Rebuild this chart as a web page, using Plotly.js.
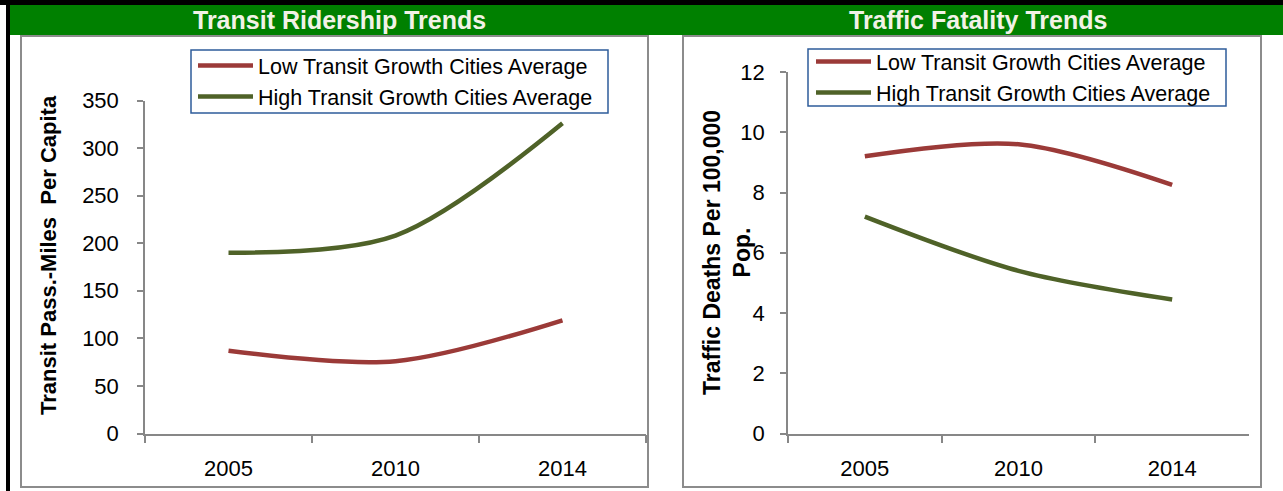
<!DOCTYPE html>
<html>
<head>
<meta charset="utf-8">
<script src="https://cdn.plot.ly/plotly-3.0.1.min.js"></script>
<style>
  html, body { margin: 0; padding: 0; background: #ffffff; }
  #chart { width: 1283px; height: 491px; }
</style>
</head>
<body>
<div id="chart"></div>
<script>
// ---- data ----
const years = ['2005', '2010', '2014'];
const seriesNames = ['Low Transit Growth Cities Average', 'High Transit Growth Cities Average'];
const ridershipLow = [87, 76, 119];
const ridershipHigh = [190, 208, 326];
const fatalityLow = [9.2, 9.6, 8.25];
const fatalityHigh = [7.2, 5.4, 4.45];
const panelTitles = ['Transit Ridership Trends', 'Traffic Fatality Trends'];
const yTitles = ['Transit Pass.-Miles  Per Capita', 'Traffic Deaths Per 100,000<br>Pop.'];

// ---- styling ----
const W = 1283, H = 491;
const X = px => px / W;
const Y = py => 1 - py / H;
const RED = '#9B3A38';
const GREEN = '#4F6228';
const AXIS = '#878787';
const FONT = 'Liberation Sans, Arial, sans-serif';

function line(x, y, name, color, xa, ya, legend) {
  return {
    type: 'scatter', mode: 'lines', x: x, y: y, name: name,
    xaxis: xa, yaxis: ya, legend: legend,
    line: { color: color, width: 4.5, shape: 'spline', smoothing: 0.9 },
    hoverinfo: 'x+y+name'
  };
}

const data = [
  line(years, ridershipLow, seriesNames[0], RED, 'x', 'y', 'legend'),
  line(years, ridershipHigh, seriesNames[1], GREEN, 'x', 'y', 'legend'),
  line(years, fatalityLow, seriesNames[0], RED, 'x2', 'y2', 'legend2'),
  line(years, fatalityHigh, seriesNames[1], GREEN, 'x2', 'y2', 'legend2')
];

const xCommon = {
  type: 'category', range: [-0.5, 2.5], tickson: 'boundaries',
  ticks: 'outside', ticklen: 8, tickwidth: 1.5, tickcolor: AXIS,
  showline: true, linecolor: AXIS, linewidth: 1.5, showgrid: false, zeroline: false,
  tickfont: { family: FONT, size: 22, color: '#000' }, ticklabelstandoff: 14, fixedrange: true
};
const yCommon = {
  ticks: 'outside', ticklen: 6, tickwidth: 1.5, tickcolor: AXIS,
  showline: true, linecolor: AXIS, linewidth: 1.5, showgrid: false, zeroline: false,
  tickfont: { family: FONT, size: 22, color: '#000' }, ticklabelstandoff: 14, fixedrange: true
};

const legendCommon = {
  bgcolor: 'rgba(0,0,0,0)', borderwidth: 0,
  font: { family: FONT, size: 21.5, color: '#000' },
  xanchor: 'left', yanchor: 'top', itemwidth: 55, itemclick: false, itemdoubleclick: false,
  tracegroupgap: 0
};

const layout = {
  width: W, height: H,
  margin: { l: 0, r: 0, t: 0, b: 0 },
  paper_bgcolor: '#ffffff', plot_bgcolor: 'rgba(0,0,0,0)',
  showlegend: true,
  xaxis: Object.assign({}, xCommon, { domain: [X(145), X(646)], anchor: 'y' }),
  yaxis: Object.assign({}, yCommon, { domain: [Y(433.5), Y(100.5)], range: [0, 350], dtick: 50, anchor: 'x' }),
  xaxis2: Object.assign({}, xCommon, { domain: [X(788), X(1249)], anchor: 'y2' }),
  yaxis2: Object.assign({}, yCommon, { domain: [Y(433.5), Y(72)], range: [0, 12], dtick: 2, anchor: 'x2', ticklabelstandoff: 11 }),
  legend: Object.assign({}, legendCommon, { x: X(193), y: Y(45) }),
  legend2: Object.assign({}, legendCommon, { x: X(811), y: Y(41) }),
  shapes: [
    // outer frame
    { type: 'rect', xref: 'paper', yref: 'paper', x0: X(0), x1: X(1283), y0: Y(0), y1: Y(5), fillcolor: '#000', line: { width: 0 }, layer: 'below' },
    { type: 'rect', xref: 'paper', yref: 'paper', x0: X(6), x1: X(10), y0: Y(0), y1: Y(491), fillcolor: '#000', line: { width: 0 }, layer: 'below' },
    // green title band
    { type: 'rect', xref: 'paper', yref: 'paper', x0: X(10), x1: X(1283), y0: Y(5), y1: Y(35), fillcolor: '#008000', line: { width: 0 }, layer: 'below' },
    // panel boxes
    { type: 'rect', xref: 'paper', yref: 'paper', x0: X(21), x1: X(648), y0: Y(36), y1: Y(487), fillcolor: 'rgba(0,0,0,0)', line: { color: '#8c8c8c', width: 2 }, layer: 'below' },
    { type: 'rect', xref: 'paper', yref: 'paper', x0: X(683), x1: X(1261), y0: Y(36), y1: Y(487), fillcolor: 'rgba(0,0,0,0)', line: { color: '#8c8c8c', width: 2 }, layer: 'below' },
    // legend boxes
    { type: 'rect', xref: 'paper', yref: 'paper', x0: X(191), x1: X(608), y0: Y(50), y1: Y(113), fillcolor: 'rgba(0,0,0,0)', line: { color: '#2E5C9A', width: 1.5 }, layer: 'below' },
    { type: 'rect', xref: 'paper', yref: 'paper', x0: X(808), x1: X(1226), y0: Y(49), y1: Y(106), fillcolor: 'rgba(0,0,0,0)', line: { color: '#2E5C9A', width: 1.5 }, layer: 'below' }
  ],
  annotations: [
    { text: '<b>' + panelTitles[0] + '</b>', xref: 'paper', yref: 'paper', x: X(340), y: Y(20), showarrow: false,
      font: { family: FONT, size: 25, color: '#F2F2E6' }, xanchor: 'center', yanchor: 'middle' },
    { text: '<b>' + panelTitles[1] + '</b>', xref: 'paper', yref: 'paper', x: X(978), y: Y(20), showarrow: false,
      font: { family: FONT, size: 25, color: '#F2F2E6' }, xanchor: 'center', yanchor: 'middle' },
    { text: '<b>' + yTitles[0] + '</b>', xref: 'paper', yref: 'paper', x: X(48), y: Y(255), showarrow: false, textangle: -90,
      font: { family: FONT, size: 22, color: '#000' }, xanchor: 'center', yanchor: 'middle' },
    { text: '<b>' + yTitles[1] + '</b>', xref: 'paper', yref: 'paper', x: X(727), y: Y(252), showarrow: false, textangle: -90,
      font: { family: FONT, size: 23, color: '#000' }, xanchor: 'center', yanchor: 'middle' }
  ]
};

Plotly.newPlot('chart', data, layout, { displayModeBar: false, staticPlot: false });
</script>
</body>
</html>
